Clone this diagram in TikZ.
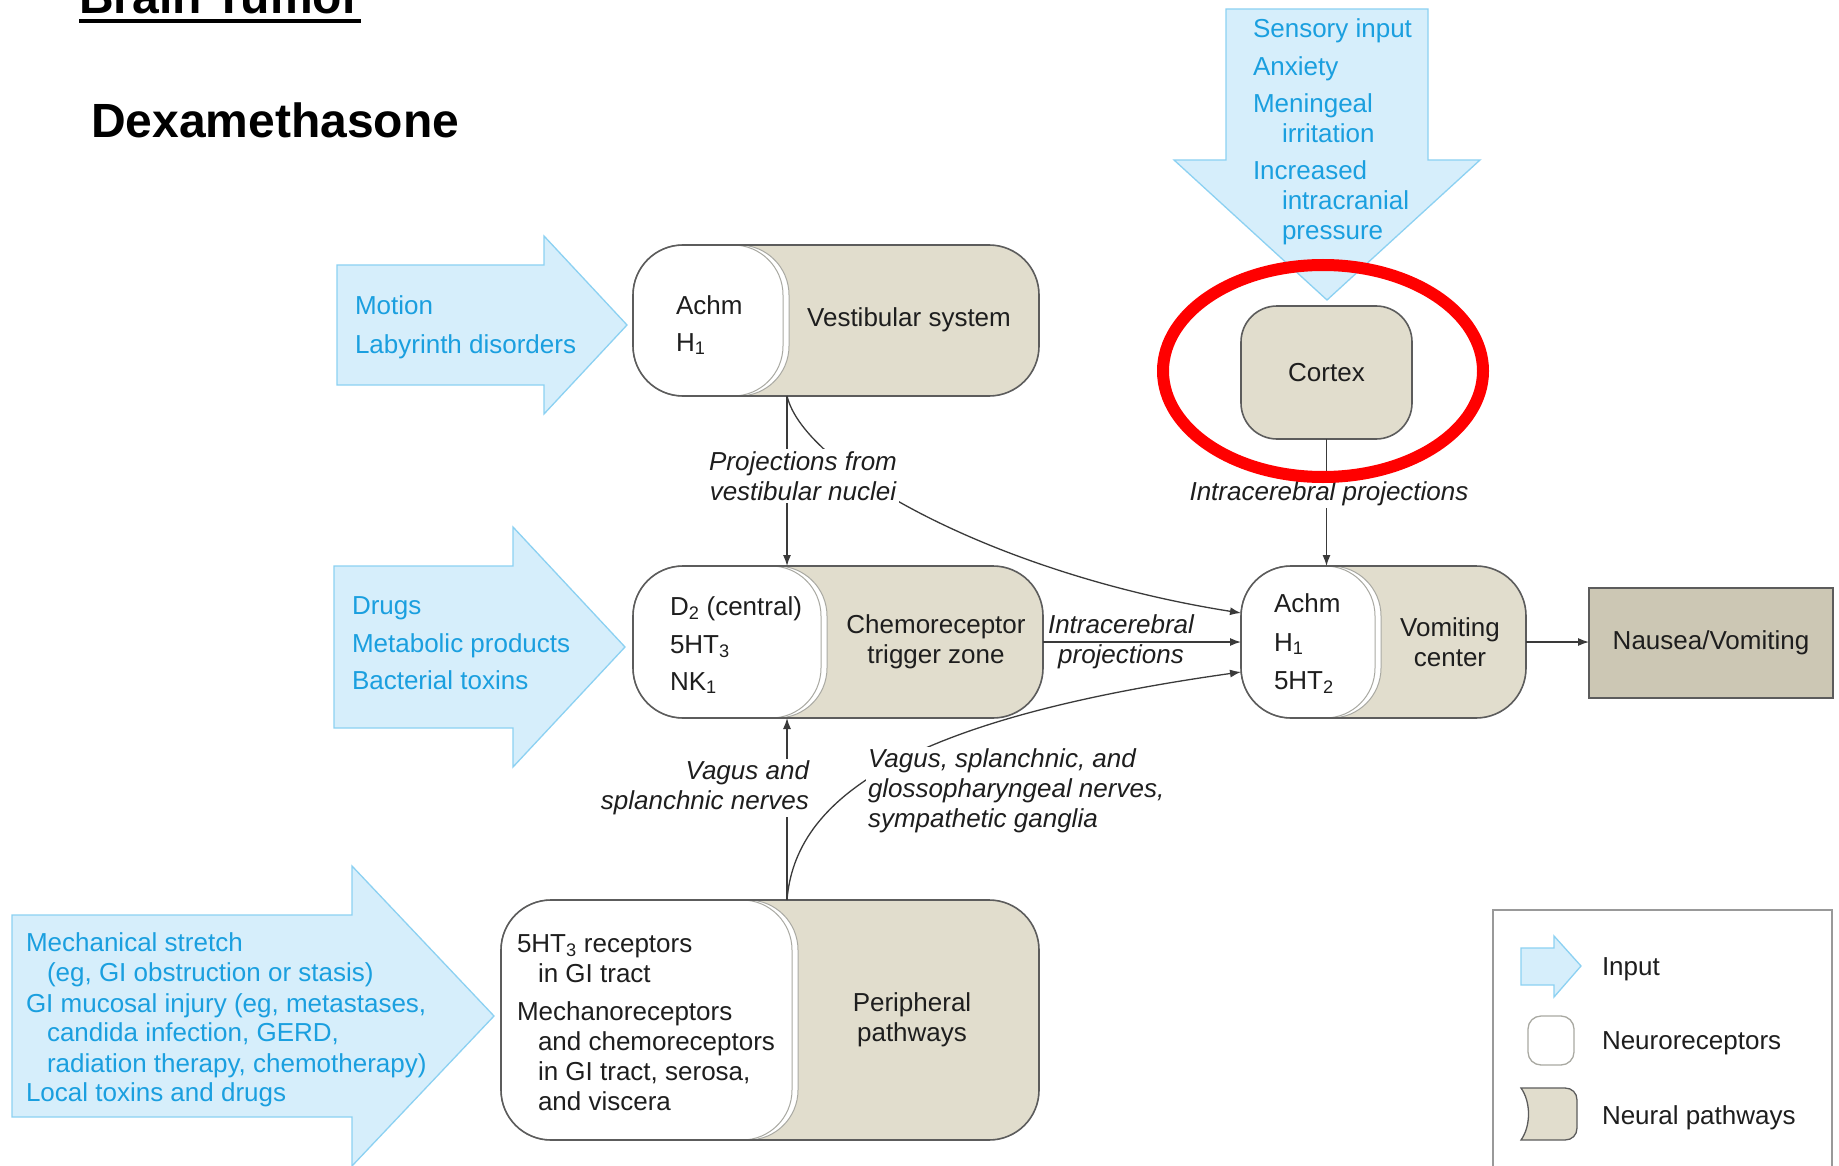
\documentclass[tikz,border=0pt]{standalone}
\usepackage{fontspec}
\setmainfont{Liberation Sans}
\usetikzlibrary{arrows.meta,calc}

\definecolor{inputfill}{HTML}{D6EEFB}
\definecolor{inputedge}{HTML}{8CD1F2}
\definecolor{inputtext}{HTML}{1A9FDF}
\definecolor{tanfill}{HTML}{E1DDCD}
\definecolor{nauseafill}{HTML}{CCC7B4}
\definecolor{edgegray}{HTML}{5C5C5C}
\definecolor{sepgray}{HTML}{A9A9A2}
\definecolor{linegray}{HTML}{3A3A3A}
\definecolor{textgray}{HTML}{1E1E1E}

% neural pathway pill: tan body, white receptor part on the left (#2 = its width)
\newcommand\neuralpill[2]{%
  \fill[tanfill, rounded corners=50pt] (#1.north west) rectangle (#1.south east);
  \filldraw[fill=white, draw=sepgray, line width=1pt, rounded corners=50pt]
    (#1.north west) rectangle ($(#1.south west)+(#2+6,0)$);
  \filldraw[fill=white, draw=sepgray, line width=1pt, rounded corners=50pt]
    (#1.north west) rectangle ($(#1.south west)+(#2,0)$);
  \draw[edgegray, line width=1.6pt, rounded corners=50pt]
    (#1.north west) rectangle (#1.south east);
}

\begin{document}
\begin{tikzpicture}[x=1pt, y=-1pt,
  every node/.style={font=\fontsize{26}{30}\selectfont, inner sep=0pt, outer sep=0pt, text=textgray},
  inshape/.style={fill=inputfill, draw=inputedge, line width=1.3pt, line join=miter},
  intext/.style={anchor=base west, text=inputtext},
  blk/.style={anchor=base west},
  lab/.style={font=\fontsize{26}{30}\selectfont\itshape, inner sep=2pt},
  conn/.style={draw=linegray, line width=1.3pt},
  tipconn/.style={conn, -{Latex[length=11pt, width=8pt]}},
  pillframe/.style={draw=none}
]
\useasboundingbox (0,0) rectangle (1839,1166);
\clip (0,0) rectangle (1839,1166);
\fill[white] (0,0) rectangle (1839,1166);

% headings
\node[anchor=base west, font=\fontsize{48}{56}\selectfont\bfseries, text=black] (title) at (79,14) {Brain Tumor};
\draw[black, line width=3.5pt] ([yshift=-7pt]title.base west) -- ([yshift=-7pt]title.base east);
\node[anchor=base west, font=\fontsize{48}{56}\selectfont\bfseries, text=black] (drug) at (91,138) {Dexamethasone};

% input arrows
\draw[inshape] (1226,9) -- (1428,9) -- (1428,160) -- (1480,160) -- (1327,300) -- (1174,160) -- (1226,160) -- cycle;
\draw[inshape] (337,265) -- (544,265) -- (544,236) -- (627,325) -- (544,414) -- (544,385) -- (337,385) -- cycle;
\draw[inshape] (334,566) -- (513,566) -- (513,527) -- (625,647) -- (513,767) -- (513,728) -- (334,728) -- cycle;
\draw[inshape] (12,915) -- (352,915) -- (352,866) -- (494,1016) -- (352,1166) -- (352,1117) -- (12,1117) -- cycle;

% boxes
\node[pillframe, minimum width=406pt, minimum height=151pt] (vest) at (836,320.5) {};
\node[pillframe, minimum width=410pt, minimum height=152pt] (ctz) at (838,642) {};
\node[pillframe, minimum width=285pt, minimum height=152pt] (vomit) at (1383.5,642) {};
\node[pillframe, minimum width=538pt, minimum height=240pt] (peri) at (770,1020) {};
\neuralpill{vest}{150}
\neuralpill{ctz}{188}
\neuralpill{vomit}{134}
\neuralpill{peri}{291}

\node[draw=edgegray, fill=tanfill, line width=1.6pt, rounded corners=36pt,
      minimum width=171pt, minimum height=133pt] (cortex) at (1326.5,372.5) {Cortex};
\node[draw=edgegray, fill=nauseafill, line width=1.6pt,
      minimum width=244pt, minimum height=110pt] (nausea) at (1711,643) {Nausea/Vomiting};

% connectors
\coordinate (vx) at (787,0);
\coordinate (vin1) at ($(vomit.west)+(0,-29)$);
\coordinate (vin3) at ($(vomit.west)+(0,30)$);
\draw[tipconn] (vx |- vest.south) -- (vx |- ctz.north);
\draw[tipconn] (vx |- vest.south) .. controls (805,470) and (1000,575) .. (vin1);
\draw[tipconn] (ctz.east) -- (vomit.west);
\draw[tipconn] (vx |- peri.north) -- (vx |- ctz.south);
\draw[tipconn] (vx |- peri.north) .. controls (795,800) and (900,720) .. (vin3);
\draw[tipconn] (cortex.south) -- (cortex.south |- vomit.north);
\draw[tipconn] (vomit.east) -- (vomit.east -| nausea.west);

% connector labels
\node[lab, fill=white, align=center] (projlab) at (803,476) {Projections from\\vestibular nuclei};
\node[lab, fill=white] (intralab) at (1329,494) {Intracerebral projections};
\node[lab, align=center] (ctzvomlab) at (1121,642) {Intracerebral\\projections};
\node[lab, fill=white, align=right, anchor=east] (vaguslab) at (811,788) {Vagus and\\splanchnic nerves};
\node[lab, fill=white, align=left, anchor=west] (glosslab) at (866,791) {Vagus, splanchnic, and\\glossopharyngeal nerves,\\sympathetic ganglia};

% input texts
\node[intext] (s1) at (1253,38) {Sensory input};
\node[intext] (s2) at (1253,76) {Anxiety};
\node[intext] (s3) at (1253,113) {Meningeal};
\node[intext] (s4) at (1282,143) {irritation};
\node[intext] (s5) at (1253,180) {Increased};
\node[intext] (s6) at (1282,210) {intracranial};
\node[intext] (s7) at (1282,240) {pressure};

\node[intext] (mo1) at (355,315) {Motion};
\node[intext] (mo2) at (355,353) {Labyrinth disorders};

\node[intext] (dr1) at (352,614) {Drugs};
\node[intext] (dr2) at (352,652) {Metabolic products};
\node[intext] (dr3) at (352,689) {Bacterial toxins};

\node[intext] (me1) at (26,951) {Mechanical stretch};
\node[intext] (me2) at (47,981) {(eg, GI obstruction or stasis)};
\node[intext] (me3) at (26,1012) {GI mucosal injury (eg, metastases,};
\node[intext] (me4) at (47,1041) {candida infection, GERD,};
\node[intext] (me5) at (47,1072) {radiation therapy, chemotherapy)};
\node[intext] (me6) at (26,1101) {Local toxins and drugs};

% receptor and pathway texts
\node[blk] (v1) at (676,314) {Achm};
\node[blk] (v2) at (676,351) {H\textsubscript{1}};
\node[align=center] (vname) at (909,320) {Vestibular system};

\node[blk] (c1) at (670,615) {D\textsubscript{2} (central)};
\node[blk] (c2) at (670,653) {5HT\textsubscript{3}};
\node[blk] (c3) at (670,690) {NK\textsubscript{1}};
\node[align=center] (cname) at (936,642) {Chemoreceptor\\trigger zone};

\node[blk] (vo1) at (1274,612) {Achm};
\node[blk] (vo2) at (1274,651) {H\textsubscript{1}};
\node[blk] (vo3) at (1274,689) {5HT\textsubscript{2}};
\node[align=center] (voname) at (1450,642) {Vomiting\\center};

\node[blk] (p1) at (517,952) {5HT\textsubscript{3} receptors};
\node[blk] (p2) at (538,982) {in GI tract};
\node[blk] (p3) at (517,1020) {Mechanoreceptors};
\node[blk] (p4) at (538,1050) {and chemoreceptors};
\node[blk] (p5) at (538,1080) {in GI tract, serosa,};
\node[blk] (p6) at (538,1110) {and viscera};
\node[align=center] (pname) at (912,1020) {Peripheral\\pathways};

% legend
\draw[draw=black!40, line width=1.5pt] (1493,910) rectangle (1832,1180);
\draw[inshape] (1521,948) -- (1554,948) -- (1554,936) -- (1581,966) -- (1554,997) -- (1554,985) -- (1521,985) -- cycle;
\node[draw=sepgray, fill=white, line width=1.3pt, rounded corners=13pt,
      minimum width=46pt, minimum height=49pt] (legrec) at (1551,1040.5) {};
\filldraw[fill=tanfill, draw=edgegray, line width=1.3pt]
  (1521,1088) -- (1565,1088) .. controls (1572,1088) and (1577,1093) .. (1577,1100)
  -- (1577,1128) .. controls (1577,1135) and (1572,1140) .. (1565,1140)
  -- (1521,1140) .. controls (1531,1126) and (1531,1102) .. (1521,1088) -- cycle;
\node[blk] (leg1) at (1602,975) {Input};
\node[blk] (leg2) at (1602,1049) {Neuroreceptors};
\node[blk] (leg3) at (1602,1124) {Neural pathways};

% highlight ring round the cortex
\draw[red, line width=12pt] (1323,371) ellipse [x radius=160pt, y radius=106pt];
\end{tikzpicture}
\end{document}
